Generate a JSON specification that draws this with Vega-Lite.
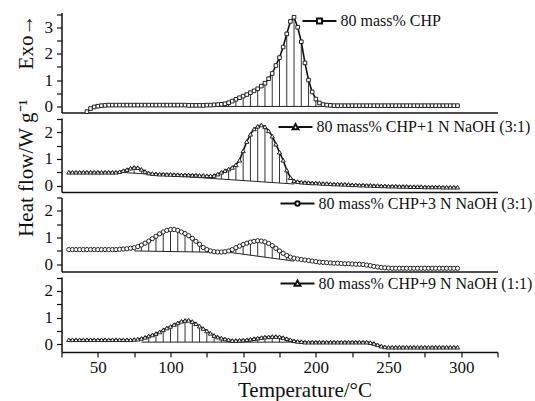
{
 "$schema": "https://vega.github.io/schema/vega-lite/v6.json",
 "padding": {"left": 14.5, "top": 2.5, "right": 0, "bottom": 5},
 "background": "white",
 "config": {
  "font": "Liberation Serif",
  "view": {"stroke": null},
  "axis": {"domainColor": "#111", "domainWidth": 1.5, "tickColor": "#111", "tickWidth": 1.2, "tickSize": 5, "labelFont": "Liberation Serif", "labelFontSize": 17, "labelColor": "#111", "labelPadding": 4, "titleFont": "Liberation Serif", "titleFontSize": 21, "titleFontWeight": "normal", "titleColor": "#111", "grid": false},
  "legend": {"labelFont": "Liberation Serif", "labelFontSize": 16, "labelColor": "#111", "labelLimit": 0, "orient": "none", "padding": 0, "symbolStrokeWidth": 2, "symbolSize": 1156, "labelOffset": 3, "title": null}
 },
 "data": {"values": [
  {"p":1,"T":130,"v":0,"T2":207.5,"v2":0},
  {"p":2,"T":65,"v":0.5,"T2":185,"v2":0.06},
  {"p":3,"T":75,"v":0.5,"T2":130,"v2":0.45},
  {"p":3,"T":140,"v":0.45,"T2":185,"v2":0.12},
  {"p":4,"T":80,"v":0.08,"T2":190,"v2":0.08},
  {"p":1,"T":42.5,"v":-0.2},{"p":1,"T":45,"v":-0.08},{"p":1,"T":47.5,"v":-0.02},{"p":1,"T":50,"v":0.01},{"p":1,"T":52.5,"v":0.03},{"p":1,"T":55,"v":0.04},{"p":1,"T":57.5,"v":0.05},{"p":1,"T":60,"v":0.05},{"p":1,"T":62.5,"v":0.05},{"p":1,"T":65,"v":0.05},{"p":1,"T":67.5,"v":0.05},{"p":1,"T":70,"v":0.05},{"p":1,"T":72.5,"v":0.05},{"p":1,"T":75,"v":0.05},{"p":1,"T":77.5,"v":0.05},{"p":1,"T":80,"v":0.05},{"p":1,"T":82.5,"v":0.05},{"p":1,"T":85,"v":0.05},{"p":1,"T":87.5,"v":0.05},{"p":1,"T":90,"v":0.05},{"p":1,"T":92.5,"v":0.05},{"p":1,"T":95,"v":0.05},{"p":1,"T":97.5,"v":0.05},{"p":1,"T":100,"v":0.05},{"p":1,"T":102.5,"v":0.05},{"p":1,"T":105,"v":0.05},{"p":1,"T":107.5,"v":0.05},{"p":1,"T":110,"v":0.05},{"p":1,"T":112.5,"v":0.04},{"p":1,"T":115,"v":0.04},{"p":1,"T":117.5,"v":0.04},{"p":1,"T":120,"v":0.04},{"p":1,"T":122.5,"v":0.04},{"p":1,"T":125,"v":0.05},{"p":1,"T":127.5,"v":0.05},{"p":1,"T":130,"v":0.06},
  {"p":1,"T":132.5,"v":0.07,"b":0},{"p":1,"T":135,"v":0.08,"b":0},{"p":1,"T":137.5,"v":0.1,"b":0},{"p":1,"T":140,"v":0.14,"b":0},{"p":1,"T":142.5,"v":0.2,"b":0},{"p":1,"T":145,"v":0.27,"b":0},{"p":1,"T":147.5,"v":0.33,"b":0},{"p":1,"T":150,"v":0.39,"b":0},{"p":1,"T":152.5,"v":0.45,"b":0},{"p":1,"T":155,"v":0.52,"b":0},{"p":1,"T":157.5,"v":0.59,"b":0},{"p":1,"T":160,"v":0.67,"b":0},{"p":1,"T":162.5,"v":0.77,"b":0},{"p":1,"T":165,"v":0.88,"b":0},{"p":1,"T":167.5,"v":1.05,"b":0},{"p":1,"T":170,"v":1.25,"b":0},{"p":1,"T":172.5,"v":1.55,"b":0},{"p":1,"T":175,"v":1.85,"b":0},{"p":1,"T":177.5,"v":2.25,"b":0},{"p":1,"T":180,"v":2.75,"b":0},{"p":1,"T":182.5,"v":3.22,"b":0},{"p":1,"T":185,"v":3.38,"b":0},{"p":1,"T":187.5,"v":3.0,"b":0},{"p":1,"T":190,"v":2.45,"b":0},{"p":1,"T":192.5,"v":1.65,"b":0},{"p":1,"T":195,"v":1.0,"b":0},{"p":1,"T":197.5,"v":0.55,"b":0},{"p":1,"T":200,"v":0.28,"b":0},{"p":1,"T":202.5,"v":0.13,"b":0},{"p":1,"T":205,"v":0.07,"b":0},
  {"p":1,"T":207.5,"v":0.05},{"p":1,"T":210,"v":0.04},{"p":1,"T":212.5,"v":0.03},{"p":1,"T":215,"v":0.03},{"p":1,"T":217.5,"v":0.03},{"p":1,"T":220,"v":0.03},{"p":1,"T":222.5,"v":0.03},{"p":1,"T":225,"v":0.03},{"p":1,"T":227.5,"v":0.03},{"p":1,"T":230,"v":0.03},{"p":1,"T":232.5,"v":0.03},{"p":1,"T":235,"v":0.03},{"p":1,"T":237.5,"v":0.03},{"p":1,"T":240,"v":0.03},{"p":1,"T":242.5,"v":0.03},{"p":1,"T":245,"v":0.03},{"p":1,"T":247.5,"v":0.03},{"p":1,"T":250,"v":0.03},{"p":1,"T":252.5,"v":0.03},{"p":1,"T":255,"v":0.03},{"p":1,"T":257.5,"v":0.03},{"p":1,"T":260,"v":0.03},{"p":1,"T":262.5,"v":0.03},{"p":1,"T":265,"v":0.03},{"p":1,"T":267.5,"v":0.03},{"p":1,"T":270,"v":0.03},{"p":1,"T":272.5,"v":0.03},{"p":1,"T":275,"v":0.03},{"p":1,"T":277.5,"v":0.03},{"p":1,"T":280,"v":0.03},{"p":1,"T":282.5,"v":0.03},{"p":1,"T":285,"v":0.03},{"p":1,"T":287.5,"v":0.03},{"p":1,"T":290,"v":0.03},{"p":1,"T":292.5,"v":0.03},{"p":1,"T":295,"v":0.03},{"p":1,"T":297.5,"v":0.03},
  {"p":2,"T":30,"v":0.5},{"p":2,"T":32.5,"v":0.5},{"p":2,"T":35,"v":0.5},{"p":2,"T":37.5,"v":0.5},{"p":2,"T":40,"v":0.5},{"p":2,"T":42.5,"v":0.5},{"p":2,"T":45,"v":0.5},{"p":2,"T":47.5,"v":0.5},{"p":2,"T":50,"v":0.5},{"p":2,"T":52.5,"v":0.5},{"p":2,"T":55,"v":0.5},{"p":2,"T":57.5,"v":0.5},{"p":2,"T":60,"v":0.5},{"p":2,"T":62.5,"v":0.5},{"p":2,"T":65,"v":0.52},
  {"p":2,"T":67.5,"v":0.56,"b":0.49},{"p":2,"T":70,"v":0.6,"b":0.48},{"p":2,"T":72.5,"v":0.65,"b":0.47},{"p":2,"T":75,"v":0.68,"b":0.46},{"p":2,"T":77.5,"v":0.67,"b":0.45},{"p":2,"T":80,"v":0.61,"b":0.45},{"p":2,"T":82.5,"v":0.53,"b":0.44},{"p":2,"T":85,"v":0.47,"b":0.43},
  {"p":2,"T":87.5,"v":0.45},{"p":2,"T":90,"v":0.44},{"p":2,"T":92.5,"v":0.43},{"p":2,"T":95,"v":0.43},{"p":2,"T":97.5,"v":0.42},{"p":2,"T":100,"v":0.42},{"p":2,"T":102.5,"v":0.41},{"p":2,"T":105,"v":0.41},{"p":2,"T":107.5,"v":0.4},{"p":2,"T":110,"v":0.4},{"p":2,"T":112.5,"v":0.4},{"p":2,"T":115,"v":0.39},{"p":2,"T":117.5,"v":0.39},{"p":2,"T":120,"v":0.38},{"p":2,"T":122.5,"v":0.38},{"p":2,"T":125,"v":0.37},{"p":2,"T":127.5,"v":0.37},
  {"p":2,"T":130,"v":0.38,"b":0.26},{"p":2,"T":132.5,"v":0.43,"b":0.25},{"p":2,"T":135,"v":0.5,"b":0.24},{"p":2,"T":137.5,"v":0.56,"b":0.23},{"p":2,"T":140,"v":0.62,"b":0.22},{"p":2,"T":142.5,"v":0.68,"b":0.22},{"p":2,"T":145,"v":0.78,"b":0.21},{"p":2,"T":147.5,"v":0.95,"b":0.2},{"p":2,"T":150,"v":1.3,"b":0.19},{"p":2,"T":152.5,"v":1.65,"b":0.18},{"p":2,"T":155,"v":1.92,"b":0.17},{"p":2,"T":157.5,"v":2.12,"b":0.16},{"p":2,"T":160,"v":2.22,"b":0.15},{"p":2,"T":162.5,"v":2.27,"b":0.14},{"p":2,"T":165,"v":2.2,"b":0.13},{"p":2,"T":167.5,"v":2.05,"b":0.12},{"p":2,"T":170,"v":1.85,"b":0.11},{"p":2,"T":172.5,"v":1.55,"b":0.11},{"p":2,"T":175,"v":1.25,"b":0.1},{"p":2,"T":177.5,"v":0.95,"b":0.09},{"p":2,"T":180,"v":0.58,"b":0.08},{"p":2,"T":182.5,"v":0.3,"b":0.07},{"p":2,"T":185,"v":0.18,"b":0.06},
  {"p":2,"T":187.5,"v":0.15},{"p":2,"T":190,"v":0.13},{"p":2,"T":192.5,"v":0.12},{"p":2,"T":195,"v":0.11},{"p":2,"T":197.5,"v":0.1},{"p":2,"T":200,"v":0.1},{"p":2,"T":202.5,"v":0.09},{"p":2,"T":205,"v":0.08},{"p":2,"T":207.5,"v":0.08},{"p":2,"T":210,"v":0.07},{"p":2,"T":212.5,"v":0.06},{"p":2,"T":215,"v":0.06},{"p":2,"T":217.5,"v":0.05},{"p":2,"T":220,"v":0.05},{"p":2,"T":222.5,"v":0.04},{"p":2,"T":225,"v":0.03},{"p":2,"T":227.5,"v":0.03},{"p":2,"T":230,"v":0.02},{"p":2,"T":232.5,"v":0.02},{"p":2,"T":235,"v":0.01},{"p":2,"T":237.5,"v":0.01},{"p":2,"T":240,"v":0},{"p":2,"T":242.5,"v":0},{"p":2,"T":245,"v":-0.01},{"p":2,"T":247.5,"v":-0.01},{"p":2,"T":250,"v":-0.02},{"p":2,"T":252.5,"v":-0.02},{"p":2,"T":255,"v":-0.02},{"p":2,"T":257.5,"v":-0.03},{"p":2,"T":260,"v":-0.03},{"p":2,"T":262.5,"v":-0.03},{"p":2,"T":265,"v":-0.04},{"p":2,"T":267.5,"v":-0.04},{"p":2,"T":270,"v":-0.04},{"p":2,"T":272.5,"v":-0.04},{"p":2,"T":275,"v":-0.05},{"p":2,"T":277.5,"v":-0.05},{"p":2,"T":280,"v":-0.05},{"p":2,"T":282.5,"v":-0.05},{"p":2,"T":285,"v":-0.05},{"p":2,"T":287.5,"v":-0.06},{"p":2,"T":290,"v":-0.06},{"p":2,"T":292.5,"v":-0.06},{"p":2,"T":295,"v":-0.06},{"p":2,"T":297.5,"v":-0.06},
  {"p":3,"T":30,"v":0.55},{"p":3,"T":32.5,"v":0.55},{"p":3,"T":35,"v":0.55},{"p":3,"T":37.5,"v":0.55},{"p":3,"T":40,"v":0.55},{"p":3,"T":42.5,"v":0.55},{"p":3,"T":45,"v":0.55},{"p":3,"T":47.5,"v":0.55},{"p":3,"T":50,"v":0.55},{"p":3,"T":52.5,"v":0.55},{"p":3,"T":55,"v":0.55},{"p":3,"T":57.5,"v":0.55},{"p":3,"T":60,"v":0.55},{"p":3,"T":62.5,"v":0.55},{"p":3,"T":65,"v":0.56},{"p":3,"T":67.5,"v":0.57},{"p":3,"T":70,"v":0.58},{"p":3,"T":72.5,"v":0.6},{"p":3,"T":75,"v":0.62},
  {"p":3,"T":77.5,"v":0.66,"b":0.5},{"p":3,"T":80,"v":0.72,"b":0.5},{"p":3,"T":82.5,"v":0.79,"b":0.49},{"p":3,"T":85,"v":0.87,"b":0.49},{"p":3,"T":87.5,"v":0.96,"b":0.49},{"p":3,"T":90,"v":1.05,"b":0.49},{"p":3,"T":92.5,"v":1.14,"b":0.48},{"p":3,"T":95,"v":1.21,"b":0.48},{"p":3,"T":97.5,"v":1.27,"b":0.48},{"p":3,"T":100,"v":1.3,"b":0.48},{"p":3,"T":102.5,"v":1.3,"b":0.48},{"p":3,"T":105,"v":1.27,"b":0.47},{"p":3,"T":107.5,"v":1.21,"b":0.47},{"p":3,"T":110,"v":1.15,"b":0.47},{"p":3,"T":112.5,"v":1.07,"b":0.47},{"p":3,"T":115,"v":0.97,"b":0.46},{"p":3,"T":117.5,"v":0.86,"b":0.46},{"p":3,"T":120,"v":0.75,"b":0.46},{"p":3,"T":122.5,"v":0.63,"b":0.46},{"p":3,"T":125,"v":0.55,"b":0.45},{"p":3,"T":127.5,"v":0.5,"b":0.45},
  {"p":3,"T":130,"v":0.47},{"p":3,"T":132.5,"v":0.46},{"p":3,"T":135,"v":0.46},{"p":3,"T":137.5,"v":0.47},{"p":3,"T":140,"v":0.5},
  {"p":3,"T":142.5,"v":0.55,"b":0.43},{"p":3,"T":145,"v":0.62,"b":0.41},{"p":3,"T":147.5,"v":0.68,"b":0.4},{"p":3,"T":150,"v":0.74,"b":0.38},{"p":3,"T":152.5,"v":0.79,"b":0.36},{"p":3,"T":155,"v":0.83,"b":0.34},{"p":3,"T":157.5,"v":0.86,"b":0.32},{"p":3,"T":160,"v":0.88,"b":0.3},{"p":3,"T":162.5,"v":0.87,"b":0.29},{"p":3,"T":165,"v":0.84,"b":0.27},{"p":3,"T":167.5,"v":0.78,"b":0.25},{"p":3,"T":170,"v":0.7,"b":0.23},{"p":3,"T":172.5,"v":0.6,"b":0.21},{"p":3,"T":175,"v":0.5,"b":0.19},{"p":3,"T":177.5,"v":0.41,"b":0.18},{"p":3,"T":180,"v":0.33,"b":0.16},{"p":3,"T":182.5,"v":0.27,"b":0.14},
  {"p":3,"T":185,"v":0.23},{"p":3,"T":187.5,"v":0.2},{"p":3,"T":190,"v":0.18},{"p":3,"T":192.5,"v":0.16},{"p":3,"T":195,"v":0.14},{"p":3,"T":197.5,"v":0.12},{"p":3,"T":200,"v":0.1},{"p":3,"T":202.5,"v":0.08},{"p":3,"T":205,"v":0.07},{"p":3,"T":207.5,"v":0.06},{"p":3,"T":210,"v":0.05},{"p":3,"T":212.5,"v":0.04},{"p":3,"T":215,"v":0.04},{"p":3,"T":217.5,"v":0.03},{"p":3,"T":220,"v":0.02},{"p":3,"T":222.5,"v":0.02},{"p":3,"T":225,"v":0.01},{"p":3,"T":227.5,"v":0},{"p":3,"T":230,"v":0},{"p":3,"T":232.5,"v":-0.01},{"p":3,"T":235,"v":-0.03},{"p":3,"T":237.5,"v":-0.05},{"p":3,"T":240,"v":-0.08},{"p":3,"T":242.5,"v":-0.1},{"p":3,"T":245,"v":-0.12},{"p":3,"T":247.5,"v":-0.13},{"p":3,"T":250,"v":-0.14},{"p":3,"T":252.5,"v":-0.15},{"p":3,"T":255,"v":-0.15},{"p":3,"T":257.5,"v":-0.15},{"p":3,"T":260,"v":-0.15},{"p":3,"T":262.5,"v":-0.15},{"p":3,"T":265,"v":-0.15},{"p":3,"T":267.5,"v":-0.15},{"p":3,"T":270,"v":-0.15},{"p":3,"T":272.5,"v":-0.15},{"p":3,"T":275,"v":-0.15},{"p":3,"T":277.5,"v":-0.15},{"p":3,"T":280,"v":-0.15},{"p":3,"T":282.5,"v":-0.15},{"p":3,"T":285,"v":-0.15},{"p":3,"T":287.5,"v":-0.15},{"p":3,"T":290,"v":-0.15},{"p":3,"T":292.5,"v":-0.15},{"p":3,"T":295,"v":-0.15},{"p":3,"T":297.5,"v":-0.15},
  {"p":4,"T":30,"v":0.17},{"p":4,"T":32.5,"v":0.17},{"p":4,"T":35,"v":0.17},{"p":4,"T":37.5,"v":0.17},{"p":4,"T":40,"v":0.17},{"p":4,"T":42.5,"v":0.17},{"p":4,"T":45,"v":0.17},{"p":4,"T":47.5,"v":0.17},{"p":4,"T":50,"v":0.17},{"p":4,"T":52.5,"v":0.17},{"p":4,"T":55,"v":0.17},{"p":4,"T":57.5,"v":0.17},{"p":4,"T":60,"v":0.17},{"p":4,"T":62.5,"v":0.17},{"p":4,"T":65,"v":0.17},{"p":4,"T":67.5,"v":0.17},{"p":4,"T":70,"v":0.17},{"p":4,"T":72.5,"v":0.17},{"p":4,"T":75,"v":0.18},{"p":4,"T":77.5,"v":0.19},{"p":4,"T":80,"v":0.22},
  {"p":4,"T":82.5,"v":0.26,"b":0.08},{"p":4,"T":85,"v":0.31,"b":0.08},{"p":4,"T":87.5,"v":0.35,"b":0.08},{"p":4,"T":90,"v":0.4,"b":0.08},{"p":4,"T":92.5,"v":0.46,"b":0.08},{"p":4,"T":95,"v":0.54,"b":0.08},{"p":4,"T":97.5,"v":0.61,"b":0.08},{"p":4,"T":100,"v":0.67,"b":0.08},{"p":4,"T":102.5,"v":0.74,"b":0.08},{"p":4,"T":105,"v":0.8,"b":0.08},{"p":4,"T":107.5,"v":0.86,"b":0.08},{"p":4,"T":110,"v":0.89,"b":0.08},{"p":4,"T":112.5,"v":0.9,"b":0.08},{"p":4,"T":115,"v":0.85,"b":0.08},{"p":4,"T":117.5,"v":0.77,"b":0.08},{"p":4,"T":120,"v":0.68,"b":0.08},{"p":4,"T":122.5,"v":0.59,"b":0.08},{"p":4,"T":125,"v":0.5,"b":0.08},{"p":4,"T":127.5,"v":0.41,"b":0.08},{"p":4,"T":130,"v":0.33,"b":0.08},{"p":4,"T":132.5,"v":0.27,"b":0.08},{"p":4,"T":135,"v":0.23,"b":0.08},{"p":4,"T":137.5,"v":0.2,"b":0.08},{"p":4,"T":140,"v":0.17,"b":0.08},
  {"p":4,"T":142.5,"v":0.14},{"p":4,"T":145,"v":0.14},{"p":4,"T":147.5,"v":0.15},{"p":4,"T":150,"v":0.16},
  {"p":4,"T":152.5,"v":0.17,"b":0.08},{"p":4,"T":155,"v":0.19,"b":0.08},{"p":4,"T":157.5,"v":0.21,"b":0.08},{"p":4,"T":160,"v":0.23,"b":0.08},{"p":4,"T":162.5,"v":0.25,"b":0.08},{"p":4,"T":165,"v":0.27,"b":0.08},{"p":4,"T":167.5,"v":0.28,"b":0.08},{"p":4,"T":170,"v":0.29,"b":0.08},{"p":4,"T":172.5,"v":0.29,"b":0.08},{"p":4,"T":175,"v":0.28,"b":0.08},{"p":4,"T":177.5,"v":0.25,"b":0.08},{"p":4,"T":180,"v":0.21,"b":0.08},{"p":4,"T":182.5,"v":0.17,"b":0.08},{"p":4,"T":185,"v":0.13,"b":0.08},
  {"p":4,"T":187.5,"v":0.11},{"p":4,"T":190,"v":0.1},{"p":4,"T":192.5,"v":0.08},{"p":4,"T":195,"v":0.08},{"p":4,"T":197.5,"v":0.08},{"p":4,"T":200,"v":0.08},{"p":4,"T":202.5,"v":0.08},{"p":4,"T":205,"v":0.08},{"p":4,"T":207.5,"v":0.08},{"p":4,"T":210,"v":0.08},{"p":4,"T":212.5,"v":0.08},{"p":4,"T":215,"v":0.08},{"p":4,"T":217.5,"v":0.08},{"p":4,"T":220,"v":0.08},{"p":4,"T":222.5,"v":0.08},{"p":4,"T":225,"v":0.08},{"p":4,"T":227.5,"v":0.08},{"p":4,"T":230,"v":0.08},{"p":4,"T":232.5,"v":0.08},{"p":4,"T":235,"v":0.08},{"p":4,"T":237.5,"v":0.06},{"p":4,"T":240,"v":0.03},{"p":4,"T":242.5,"v":-0.02},{"p":4,"T":245,"v":-0.07},{"p":4,"T":247.5,"v":-0.1},{"p":4,"T":250,"v":-0.11},{"p":4,"T":252.5,"v":-0.11},{"p":4,"T":255,"v":-0.11},{"p":4,"T":257.5,"v":-0.11},{"p":4,"T":260,"v":-0.11},{"p":4,"T":262.5,"v":-0.11},{"p":4,"T":265,"v":-0.11},{"p":4,"T":267.5,"v":-0.11},{"p":4,"T":270,"v":-0.11},{"p":4,"T":272.5,"v":-0.11},{"p":4,"T":275,"v":-0.11},{"p":4,"T":277.5,"v":-0.11},{"p":4,"T":280,"v":-0.11},{"p":4,"T":282.5,"v":-0.11},{"p":4,"T":285,"v":-0.11},{"p":4,"T":287.5,"v":-0.11},{"p":4,"T":290,"v":-0.11},{"p":4,"T":292.5,"v":-0.11},{"p":4,"T":295,"v":-0.11},{"p":4,"T":297.5,"v":-0.11}
 ]},
 "bounds": "flush",
 "spacing": 5.5,
 "resolve": {"scale": {"y": "independent", "color": "independent"}, "legend": {"color": "independent"}},
 "vconcat": [
  {
   "width": 436, "height": 100,
   "transform": [{"filter": "datum.p === 1"}],
   "encoding": {
    "x": {"field": "T", "type": "quantitative", "scale": {"domain": [25, 325], "nice": false, "zero": false}, "axis": {"labels": false, "ticks": false, "title": null}},
    "y": {"field": "v", "type": "quantitative", "scale": {"domain": [-0.23, 3.56], "nice": false, "zero": false}, "axis": {"values": [0, 0.5, 1, 1.5, 2, 2.5, 3, 3.5], "labelFont": "Liberation Serif", "labelExpr": "datum.value % 1 === 0 ? format(datum.value, 'd') : ''", "title": "Exo→", "titleX": -35, "titleY": 29, "titleAngle": -90, "titleAlign": "center", "titleBaseline": "middle"}}
   },
   "layer": [
    {"transform": [{"filter": "isValid(datum.b) && datum.T % 5 === 0"}], "mark": {"type": "rule", "color": "#333", "strokeWidth": 1}, "encoding": {"y2": {"field": "b"}}},
    {"transform": [{"filter": "isValid(datum.T2)"}], "mark": {"type": "rule", "color": "#222", "strokeWidth": 1}, "encoding": {"x2": {"field": "T2"}, "y2": {"field": "v2"}}},
    {"transform": [{"filter": "!isValid(datum.T2)"}], "mark": {"type": "line", "strokeWidth": 1.6}, "encoding": {"color": {"datum": "80 mass% CHP", "scale": {"range": ["#111"]}, "legend": {"labelFont": "Liberation Serif", "labelLimit": 0, "symbolType": "M-1,0H-0.15M0.15,0H1M-0.15,-0.15H0.15V0.15H-0.15Z", "legendX": 240, "legendY": -9.5}}}},
    {"transform": [{"filter": "!isValid(datum.T2)"}], "mark": {"type": "point", "shape": "square", "filled": true, "fill": "white", "stroke": "#222", "strokeWidth": 1, "size": 13, "opacity": 1}}
   ]
  },
  {
   "width": 436, "height": 74,
   "transform": [{"filter": "datum.p === 2"}],
   "encoding": {
    "x": {"field": "T", "type": "quantitative", "scale": {"domain": [25, 325], "nice": false, "zero": false}, "axis": {"labels": false, "ticks": false, "title": null}},
    "y": {"field": "v", "type": "quantitative", "scale": {"domain": [-0.24, 2.53], "nice": false, "zero": false}, "axis": {"values": [0, 0.5, 1, 1.5, 2, 2.5], "labelFont": "Liberation Serif", "labelExpr": "datum.value % 1 === 0 ? format(datum.value, 'd') : ''", "title": "Heat flow/W g⁻¹", "titleX": -35, "titleY": 49.5, "titleAngle": -90, "titleAlign": "center", "titleBaseline": "middle"}}
   },
   "layer": [
    {"transform": [{"filter": "isValid(datum.b) && datum.T % 5 === 0"}], "mark": {"type": "rule", "color": "#333", "strokeWidth": 1}, "encoding": {"y2": {"field": "b"}}},
    {"transform": [{"filter": "isValid(datum.T2)"}], "mark": {"type": "rule", "color": "#222", "strokeWidth": 1}, "encoding": {"x2": {"field": "T2"}, "y2": {"field": "v2"}}},
    {"transform": [{"filter": "!isValid(datum.T2)"}], "mark": {"type": "line", "strokeWidth": 1.6}, "encoding": {"color": {"datum": "80 mass% CHP+1 N NaOH (3:1)", "scale": {"range": ["#111"]}, "legend": {"labelFont": "Liberation Serif", "labelLimit": 0, "symbolType": "M-1,0H-0.16M0.16,0H1M0,-0.17L0.17,0.13H-0.17Z", "legendX": 216, "legendY": -9}}}},
    {"transform": [{"filter": "!isValid(datum.T2)"}], "mark": {"type": "point", "shape": "triangle-up", "filled": true, "fill": "white", "stroke": "#222", "strokeWidth": 1, "size": 18, "opacity": 1}}
   ]
  },
  {
   "width": 436, "height": 74,
   "transform": [{"filter": "datum.p === 3"}],
   "encoding": {
    "x": {"field": "T", "type": "quantitative", "scale": {"domain": [25, 325], "nice": false, "zero": false}, "axis": {"labels": false, "ticks": false, "title": null}},
    "y": {"field": "v", "type": "quantitative", "scale": {"domain": [-0.27, 2.5], "nice": false, "zero": false}, "axis": {"values": [0, 0.5, 1, 1.5, 2, 2.5], "labelFont": "Liberation Serif", "labelExpr": "datum.value % 1 === 0 ? format(datum.value, 'd') : ''", "title": null}}
   },
   "layer": [
    {"transform": [{"filter": "isValid(datum.b) && datum.T % 5 === 0"}], "mark": {"type": "rule", "color": "#333", "strokeWidth": 1}, "encoding": {"y2": {"field": "b"}}},
    {"transform": [{"filter": "isValid(datum.T2)"}], "mark": {"type": "rule", "color": "#222", "strokeWidth": 1}, "encoding": {"x2": {"field": "T2"}, "y2": {"field": "v2"}}},
    {"transform": [{"filter": "!isValid(datum.T2)"}], "mark": {"type": "line", "strokeWidth": 1.6}, "encoding": {"color": {"datum": "80 mass% CHP+3 N NaOH (3:1)", "scale": {"range": ["#111"]}, "legend": {"labelFont": "Liberation Serif", "labelLimit": 0, "symbolType": "M-1,0H-0.13M0.13,0H1M0.13,0A0.13,0.13 0 1 1 -0.13,0A0.13,0.13 0 1 1 0.13,0", "legendX": 218, "legendY": -12}}}},
    {"transform": [{"filter": "!isValid(datum.T2)"}], "mark": {"type": "point", "shape": "circle", "filled": true, "fill": "white", "stroke": "#222", "strokeWidth": 1, "size": 18, "opacity": 1}}
   ]
  },
  {
   "width": 436, "height": 75,
   "transform": [{"filter": "datum.p === 4"}],
   "encoding": {
    "x": {"field": "T", "type": "quantitative", "scale": {"domain": [25, 325], "nice": false, "zero": false}, "axis": {"values": [25, 50, 75, 100, 125, 150, 175, 200, 225, 250, 275, 300, 325], "labelFont": "Liberation Serif", "labelExpr": "datum.value % 50 === 0 && datum.value >= 50 && datum.value <= 300 ? format(datum.value, 'd') : ''", "labelPadding": 2, "labelFlush": false, "labelOverlap": false, "title": "Temperature/°C", "titleX": 243, "titleY": 44, "titleAlign": "center", "titleBaseline": "alphabetic"}},
    "y": {"field": "v", "type": "quantitative", "scale": {"domain": [-0.29, 2.52], "nice": false, "zero": false}, "axis": {"values": [0, 0.5, 1, 1.5, 2, 2.5], "labelFont": "Liberation Serif", "labelExpr": "datum.value % 1 === 0 ? format(datum.value, 'd') : ''", "title": null}}
   },
   "layer": [
    {"transform": [{"filter": "isValid(datum.b) && datum.T % 5 === 0"}], "mark": {"type": "rule", "color": "#333", "strokeWidth": 1}, "encoding": {"y2": {"field": "b"}}},
    {"transform": [{"filter": "isValid(datum.T2)"}], "mark": {"type": "rule", "color": "#222", "strokeWidth": 1}, "encoding": {"x2": {"field": "T2"}, "y2": {"field": "v2"}}},
    {"transform": [{"filter": "!isValid(datum.T2)"}], "mark": {"type": "line", "strokeWidth": 1.6}, "encoding": {"color": {"datum": "80 mass% CHP+9 N NaOH (1:1)", "scale": {"range": ["#111"]}, "legend": {"labelFont": "Liberation Serif", "labelLimit": 0, "symbolType": "M-1,0H-0.16M0.16,0H1M0,-0.17L0.17,0.13H-0.17Z", "legendX": 218, "legendY": -11.5}}}},
    {"transform": [{"filter": "!isValid(datum.T2)"}], "mark": {"type": "point", "shape": "triangle-up", "filled": true, "fill": "white", "stroke": "#222", "strokeWidth": 1, "size": 18, "opacity": 1}}
   ]
  }
 ]
}
